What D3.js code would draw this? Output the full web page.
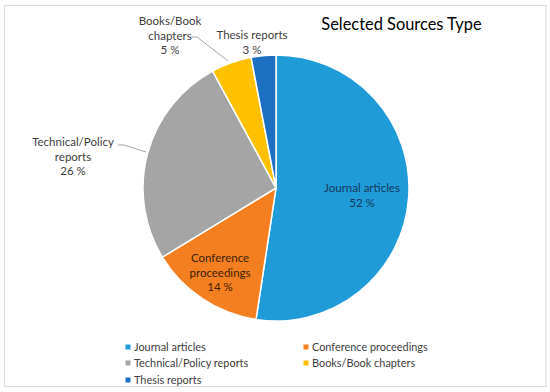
<!DOCTYPE html>
<html><head><meta charset="utf-8">
<script src="https://cdn.jsdelivr.net/npm/d3@7"></script>
<style>
html,body{margin:0;padding:0;background:#fff;}
text{font-family:Lato,"Open Sans",sans-serif;}
</style></head>
<body><svg id="c" width="550" height="392"></svg>
<script>
const categories = ["Journal articles","Conference proceedings","Technical/Policy reports","Books/Book chapters","Thesis reports"];
const values = [52.4, 13.9, 25.8, 4.9, 3.0];
const colors = ["#1f9bd7","#f47f20","#a5a5a5","#ffc000","#1d6fc2"];
const labelLines = [["Journal articles"],["Conference","proceedings"],["Technical/Policy","reports"],["Books/Book","chapters"],["Thesis reports"]];
const title = "Selected Sources Type";

const svg = d3.select("#c");
svg.append("rect").attr("x",4.5).attr("y",5.5).attr("width",541.5).attr("height",381)
  .attr("fill","#fff").attr("stroke","#d9d9d9").attr("stroke-width",1);

svg.append("text").attr("x",401.5).attr("y",30).attr("text-anchor","middle")
  .attr("font-size",16.4).attr("fill","#000").text(title);

const cx=276, cy=188, R=133;
const pie = d3.pie().sort(null).value(d=>d)(values);
const arc = d3.arc().innerRadius(0).outerRadius(R);
const g = svg.append("g").attr("transform",`translate(${cx},${cy})`);
g.selectAll("path").data(pie).join("path").attr("d",arc)
  .attr("fill",(d,i)=>colors[i]).attr("stroke","#fff").attr("stroke-width",1.5);

const labelPos = [
  {x:362,y:188,fill:"#173a5e"},
  {x:220,y:258,fill:"#3d1f05"},
  {x:73,y:142,fill:"#404040"},
  {x:170,y:21,fill:"#404040"},
  {x:252,y:35,fill:"#404040"}
];
const fmt = v => Math.round(v) + " %";
pie.forEach((d,i)=>{
  const p = labelPos[i];
  const lines = labelLines[i].concat([fmt(values[i])]);
  const t = svg.append("text").attr("text-anchor","middle").attr("font-size",11.5).attr("fill",p.fill);
  lines.forEach((l,k)=>{
    t.append("tspan").attr("x",p.x).attr("y",p.y+4+k*14.7).text(l);
  });
});
const leaders = [
  [[118,145],[124,145],[146,152]],
  [[191,37],[197,37],[228,61]]
];
leaders.forEach(pts=>{
  svg.append("path").attr("d",d3.line()(pts)).attr("fill","none").attr("stroke","#a6a6a6").attr("stroke-width",1);
});

const legPos = [[128,347],[306,347],[128,363],[306,363],[128,380]];
categories.forEach((c,i)=>{
  const [x,y]=legPos[i];
  svg.append("rect").attr("x",x-2.5).attr("y",y-2.5).attr("width",5).attr("height",5).attr("fill",colors[i]);
  svg.append("text").attr("x",x+6).attr("y",y+4).attr("font-size",10.9).attr("fill","#404040").text(c);
});
</script></body></html>
